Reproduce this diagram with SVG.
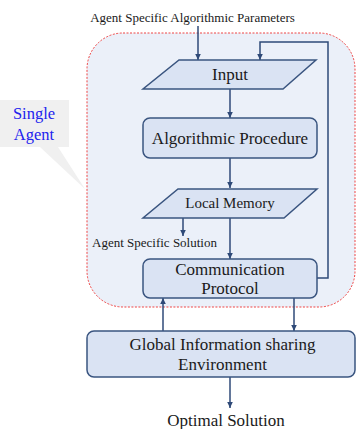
<svg xmlns="http://www.w3.org/2000/svg" width="357" height="429" viewBox="0 0 357 429" font-family="Liberation Serif">
<style>
.box{fill:#dae3f3;stroke:#3a5580;stroke-width:1.5}
.ln{fill:none;stroke:#2f4a78;stroke-width:1.5}
.t{fill:#1a1a1a;text-anchor:middle}
.big{font-size:17px}
.sm{font-size:13px}
.blue{font-size:16.5px;fill:#2222ee;text-anchor:middle}
</style>
<defs>
<marker id="ah" markerWidth="8" markerHeight="8" refX="7" refY="4" orient="auto" markerUnits="userSpaceOnUse">
<path d="M1,1.2 L7,4 L1,6.8 Z" fill="#2f4a78"/>
</marker>
</defs>
<rect x="0" y="0" width="357" height="429" fill="#ffffff"/>
<g id="agent-boundary">
<rect x="87" y="33" width="268" height="274" rx="36" ry="36" fill="#ebf0f9" stroke="#ee4444" stroke-width="1" stroke-dasharray="2,1.5"/>
</g>
<g id="callout">
<path d="M0,100 H69 V147 H58 L85,189 L40,147 H0 Z" fill="#f0f0f0"/>
<text class="blue" x="34" y="119" font-family="Liberation Serif">Single</text>
<text class="blue" x="34" y="140" font-family="Liberation Serif">Agent</text>
</g>
<g id="connectors">
<line class="ln" x1="198" y1="26" x2="198" y2="60" marker-end="url(#ah)"/>
<polyline class="ln" points="317,278 328,278 328,42 260,42 260,60" marker-end="url(#ah)"/>
<line class="ln" x1="230" y1="89" x2="230" y2="118" marker-end="url(#ah)"/>
<line class="ln" x1="230" y1="158" x2="230" y2="188" marker-end="url(#ah)"/>
<line class="ln" x1="183" y1="218" x2="183" y2="236" marker-end="url(#ah)"/>
<line class="ln" x1="230" y1="218" x2="230" y2="259" marker-end="url(#ah)"/>
<line class="ln" x1="163" y1="331" x2="163" y2="298" marker-end="url(#ah)"/>
<line class="ln" x1="294" y1="298" x2="294" y2="331" marker-end="url(#ah)"/>
<line class="ln" x1="230" y1="377" x2="230" y2="408" marker-end="url(#ah)"/>
</g>
<g id="title-label">
<text class="t sm" x="192.5" y="22" font-family="Liberation Serif">Agent Specific Algorithmic Parameters</text>
</g>
<g id="input">
<polygon class="box" points="179,60 316,60 283,89 143,89"/>
<text class="t big" x="230" y="80" font-family="Liberation Serif">Input</text>
</g>
<g id="algorithmic-procedure">
<rect class="box" x="143" y="118" width="174" height="40" rx="7"/>
<text class="t big" x="230" y="144" font-family="Liberation Serif">Algorithmic Procedure</text>
</g>
<g id="local-memory">
<polygon class="box" points="178,189 317,189 284,218 143,218"/>
<text class="t" x="230" y="208" font-size="15" font-family="Liberation Serif">Local Memory</text>
</g>
<g id="solution-label">
<text class="t sm" x="154.5" y="247" font-family="Liberation Serif">Agent Specific Solution</text>
</g>
<g id="communication-protocol">
<rect class="box" x="143" y="259" width="174" height="39" rx="7"/>
<text class="t big" x="230" y="275" font-family="Liberation Serif">Communication</text>
<text class="t big" x="230" y="294" font-family="Liberation Serif">Protocol</text>
</g>
<g id="global-environment">
<rect class="box" x="87" y="331" width="268" height="46" rx="7"/>
<text class="t big" x="222.5" y="350" font-family="Liberation Serif">Global Information sharing</text>
<text class="t big" x="222.5" y="370" font-family="Liberation Serif">Environment</text>
</g>
<g id="optimal-solution">
<text class="t big" x="226" y="426" font-family="Liberation Serif">Optimal Solution</text>
</g>
</svg>
